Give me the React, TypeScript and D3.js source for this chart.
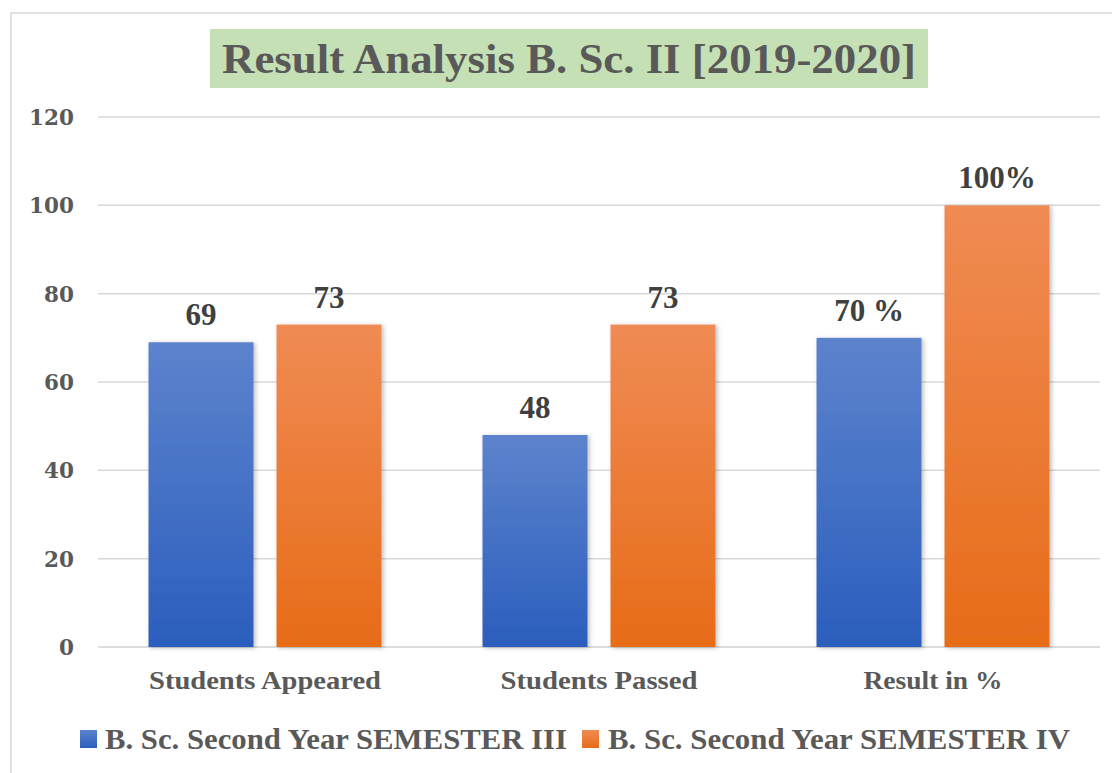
import React from "react";
import * as d3 from "d3";

const categories = ["Students Appeared", "Students Passed", "Result in %"];
const seriesNames = ["B. Sc. Second Year SEMESTER III", "B. Sc. Second Year SEMESTER IV"];
const sem3Values = [69, 48, 70];
const sem4Values = [73, 73, 100];
const sem3Labels = ["69", "48", "70 %"];
const sem4Labels = ["73", "73", "100%"];
const yTicks = [0, 20, 40, 60, 80, 100, 120];
const categoryLabelWidths = [232, 197, 139];

const W = 1112;
const H = 773;
const FONT = "'Liberation Serif', 'DejaVu Serif', serif";
const SLAB = "'DejaVu Serif', serif";
const TXT = "#595959";

export default function App() {
  const x0 = d3.scaleBand<string>().domain(categories).range([98, 1100]).paddingInner(0).paddingOuter(0);
  const y = d3.scaleLinear().domain([0, 120]).range([647, 117]);
  const barW = 105;
  const gap = 23;
  const series = [
    { name: seriesNames[0], values: sem3Values, labels: sem3Labels, grad: "gBlue", sx: 80, tx: 105, tw: 462 },
    { name: seriesNames[1], values: sem4Values, labels: sem4Labels, grad: "gOrange", sx: 582, tx: 608, tw: 462 },
  ];
  const barX = (ci: number, si: number) => {
    const c = (x0(categories[ci]) as number) + x0.bandwidth() / 2;
    const total = barW * 2 + gap;
    return c - total / 2 + si * (barW + gap);
  };

  return (
    <svg width={W} height={H} style={{ display: "block", position: "absolute", left: 0, top: 0 }}>
      <defs>
        <linearGradient id="gBlue" x1="0" y1="0" x2="0" y2="1">
          <stop offset="0" stopColor="#5d83cd" />
          <stop offset="1" stopColor="#2b5ebd" />
        </linearGradient>
        <linearGradient id="gOrange" x1="0" y1="0" x2="0" y2="1">
          <stop offset="0" stopColor="#f08b54" />
          <stop offset="1" stopColor="#e76c18" />
        </linearGradient>
        <filter id="shadow" x="-10%" y="-10%" width="130%" height="120%">
          <feDropShadow dx="2" dy="1" stdDeviation="2" floodColor="#000" floodOpacity="0.25" />
        </filter>
      </defs>
      <rect x={0} y={0} width={W} height={H} fill="#fff" />
      <rect x={11} y={13} width={W + 20} height={H + 20} fill="#fff" stroke="#d9d9d9" strokeWidth={1.5} />

      {/* title */}
      <rect x={210} y={29} width={718} height={59} fill="#c5e0b4" />
      <text x={569} y={73} textAnchor="middle" fontFamily={FONT} fontWeight="bold" fontSize={42} fill={TXT}
        textLength={694} lengthAdjust="spacingAndGlyphs">Result Analysis B. Sc. II [2019-2020]</text>

      {/* gridlines */}
      {yTicks.map((t) => (
        <g key={t}>
          <line x1={98} x2={1100} y1={y(t)} y2={y(t)} stroke={t === 0 ? "#d0d0d0" : "#d9d9d9"} strokeWidth={1.5} />
          <text x={74} y={y(t) + 8} textAnchor="end" fontFamily={SLAB} fontWeight="bold" fontSize={21.5} fill={TXT}>{t}</text>
        </g>
      ))}

      {/* bars */}
      {series.map((s, si) =>
        s.values.map((v, ci) => (
          <g key={`${si}-${ci}`}>
            <rect x={barX(ci, si)} y={y(v)} width={barW} height={y(0) - y(v)} fill={`url(#${s.grad})`} filter="url(#shadow)" />
            <text x={barX(ci, si) + barW / 2} y={y(v) - 17} textAnchor="middle" fontFamily={FONT} fontWeight="bold"
              fontSize={31} fill="#404040">{s.labels[ci]}</text>
          </g>
        ))
      )}

      {/* category labels */}
      {categories.map((c, i) => (
        <text key={c} x={(x0(c) as number) + x0.bandwidth() / 2} y={689} textAnchor="middle" fontFamily={FONT}
          fontWeight="bold" fontSize={25} fill={TXT} textLength={categoryLabelWidths[i]}
          lengthAdjust="spacingAndGlyphs">{c}</text>
      ))}

      {/* legend */}
      {series.map((s) => (
        <g key={s.name}>
          <rect x={s.sx} y={730} width={17} height={18} fill={`url(#${s.grad})`} />
          <text x={s.tx} y={749} fontFamily={FONT} fontWeight="bold" fontSize={30} fill={TXT}
            textLength={s.tw} lengthAdjust="spacingAndGlyphs">{s.name}</text>
        </g>
      ))}
    </svg>
  );
}
